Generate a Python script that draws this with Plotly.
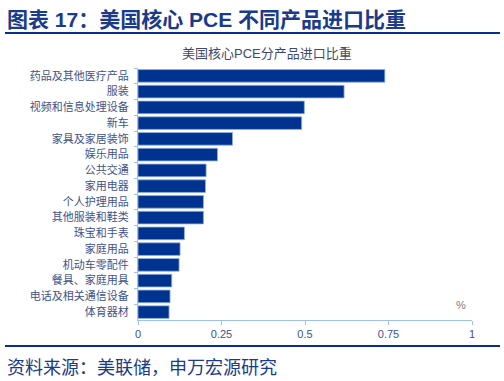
import plotly.graph_objects as go

categories = ["药品及其他医疗产品", "服装", "视频和信息处理设备", "新车", "家具及家居装饰",
              "娱乐用品", "公共交通", "家用电器", "个人护理用品", "其他服装和鞋类",
              "珠宝和手表", "家庭用品", "机动车零配件", "餐具、家庭用具", "电话及相关通信设备", "体育器材"]
values = [0.739, 0.617, 0.498, 0.490, 0.283, 0.238, 0.204, 0.202, 0.196, 0.196,
          0.139, 0.126, 0.123, 0.101, 0.096, 0.093]
x_ticks = [0, 0.25, 0.5, 0.75, 1]
x_ticklabels = ["0", "0.25", "0.5", "0.75", "1"]

W, H = 504, 381
L, R, T, B = 138, 32, 68, 61
PW, PH = W - L - R, H - T - B

def py(p):
    return (H - B - p) / PH

def pxx(p):
    return (p - L) / PW

FONT = "Liberation Sans, Noto Sans CJK SC, sans-serif"
NAVY = "#00338F"
LBLUE = "#9DC3E6"
TXT = "#3F5289"

fig = go.Figure(go.Bar(
    y=categories, x=values, orientation="h",
    marker=dict(color=NAVY, line=dict(color="#8FB0E0", width=0.8)),
))

fig.update_layout(
    width=W, height=H,
    margin=dict(l=L, r=R, t=T, b=B, pad=0),
    paper_bgcolor="white", plot_bgcolor="white",
    bargap=0.2, showlegend=False,
    font=dict(family=FONT, color=TXT, size=11),
    xaxis=dict(range=[0, 1], tickvals=x_ticks, ticktext=x_ticklabels,
               showgrid=False, zeroline=False, showline=True, linecolor=LBLUE, linewidth=1,
               ticks="outside", ticklen=4, tickcolor=LBLUE,
               tickfont=dict(size=11, color=TXT, family=FONT)),
    yaxis=dict(autorange="reversed", showgrid=False, zeroline=False,
               showline=True, linecolor=LBLUE, linewidth=1,
               ticks="outside", ticklen=3, tickcolor=LBLUE, tickson="boundaries",
               ticklabelstandoff=6,
               tickfont=dict(size=11, color=TXT, family=FONT)),
)

fig.add_annotation(text="<b>图表 17：美国核心 PCE 不同产品进口比重</b>",
                   xref="paper", yref="paper", x=pxx(5), y=py(19),
                   xanchor="left", yanchor="middle", showarrow=False,
                   font=dict(size=21, color="#1A3A8A", family=FONT))
fig.add_shape(type="line", xref="paper", yref="paper",
              x0=pxx(5), x1=pxx(500), y0=py(33), y1=py(33),
              line=dict(color="#0A2E8C", width=2.2))
fig.add_annotation(text="美国核心PCE分产品进口比重",
                   xref="paper", yref="paper", x=pxx(267), y=py(53),
                   xanchor="center", yanchor="middle", showarrow=False,
                   font=dict(size=13, color="#3F4A6B", family=FONT))
fig.add_annotation(text="%", xref="paper", yref="paper", x=pxx(461), y=py(305),
                   xanchor="center", yanchor="middle", showarrow=False,
                   font=dict(size=11, color="#808080", family=FONT))
fig.add_shape(type="line", xref="paper", yref="paper",
              x0=pxx(5), x1=pxx(500), y0=py(346), y1=py(346),
              line=dict(color="#0A2E8C", width=2))
fig.add_annotation(text="资料来源：美联储，申万宏源研究",
                   xref="paper", yref="paper", x=pxx(5), y=py(368),
                   xanchor="left", yanchor="middle", showarrow=False,
                   font=dict(size=18, color="#1A3A8A", family=FONT))

fig.write_html("out.html", config={"displayModeBar": False},
               post_script="document.body.style.margin='0px';document.body.style.overflow='hidden';")
